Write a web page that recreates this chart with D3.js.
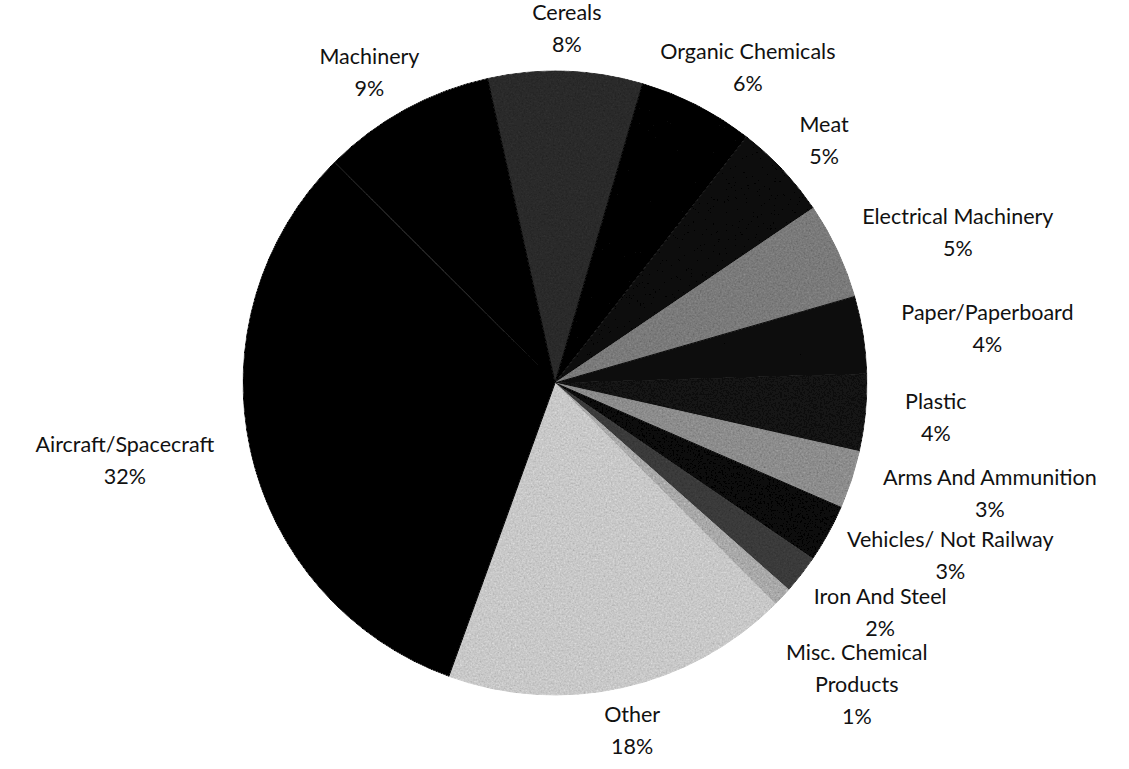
<!DOCTYPE html>
<html>
<head>
<meta charset="utf-8">
<script src="https://cdn.jsdelivr.net/npm/d3@7"></script>
<style>
  body { margin: 0; background: #fff; }
  svg { display: block; }
</style>
</head>
<body>
<div class="chart"></div>
<script>
// export shares, clockwise starting with Cereals
const categories = ['Cereals', 'Organic Chemicals', 'Meat', 'Electrical Machinery', 'Paper/Paperboard',
  'Plastic', 'Arms And Ammunition', 'Vehicles/ Not Railway', 'Iron And Steel',
  'Misc. Chemical\nProducts', 'Other', 'Aircraft/Spacecraft', 'Machinery']
const shares = [8, 6, 5, 5, 4, 4, 3, 3, 2, 1, 18, 32, 9]

const shades = ['#2a2a2a', '#050505', '#080808', '#7a7a7a', '#0a0a0a', '#121212', '#8c8c8c',
  '#070707', '#3a3a3a', '#a9a9a9', '#c8c8c8', '#030303', '#040404']

let w = 1129,
    h = 769

const cx = 555, cy = 383, r = 312
const lineH = 32
const labelRy = r + 43
const startDeg = -12.5

const svg = d3.select('.chart')
              .append('svg')
              .attr('width', w)
              .attr('height', h)

// scanned-print grain, black stays black
const grain = svg.append('defs').append('filter')
                 .attr('id', 'grain')
                 .attr('x', '-5%').attr('y', '-5%')
                 .attr('width', '110%').attr('height', '110%')
grain.append('feTurbulence')
     .attr('type', 'fractalNoise')
     .attr('baseFrequency', 0.55)
     .attr('numOctaves', 2)
     .attr('seed', 4)
     .attr('result', 'noise')
grain.append('feColorMatrix')
     .attr('in', 'noise')
     .attr('type', 'saturate')
     .attr('values', 0)
     .attr('result', 'grey')
grain.append('feBlend')
     .attr('in', 'grey')
     .attr('in2', 'SourceGraphic')
     .attr('mode', 'overlay')
     .attr('result', 'mix')
grain.append('feComposite')
     .attr('in', 'mix')
     .attr('in2', 'SourceGraphic')
     .attr('operator', 'in')

const a0 = startDeg * Math.PI / 180
const pie = d3.pie()
              .sort(null)
              .value(d => d)
              .startAngle(a0)
              .endAngle(a0 + 2 * Math.PI)

const arc = d3.arc().innerRadius(0).outerRadius(r)
const slices = pie(shares)

const pieG = svg.append('g')
                .attr('transform', `translate(${cx},${cy})`)
                .attr('filter', 'url(#grain)')

pieG.selectAll('path')
    .data(slices)
    .enter()
    .append('path')
    .attr('d', arc)
    .attr('fill', (d, i) => shades[i])
    .attr('stroke', (d, i) => shades[i])
    .attr('stroke-width', 1)
    .attr('stroke-linejoin', 'round')

// labels
const labelG = svg.append('g')
                  .style('font-family', 'Lato, "Noto Sans", sans-serif')
                  .style('font-size', '21.5px')
                  .attr('fill', '#111')

const labels = slices.map((d, i) => {
  const lines = categories[i].split('\n').concat([shares[i] + '%'])
  const probe = labelG.append('text')
  let bw = 0
  lines.forEach(t => {
    probe.text(t)
    bw = Math.max(bw, probe.node().getComputedTextLength())
  })
  probe.remove()
  const bh = lines.length * lineH
  const mid = (d.startAngle + d.endAngle) / 2
  const sx = Math.sin(mid), sy = -Math.cos(mid)
  const gap = 10 + 30 * Math.abs(sx)
  return {
    lines: lines,
    w: bw,
    h: bh,
    right: sx > 0,
    x: cx + (r + gap) * sx + bw / 2 * sx,
    y: cy + labelRy * sy
  }
})

// push crowded labels on the right side downwards
let prev = null
labels.forEach(l => {
  if (!l.right) return
  if (prev) {
    const xOverlap = Math.abs(l.x - prev.x) < (l.w + prev.w) / 2
    const need = (l.h + prev.h) / 2 * 0.9
    if (xOverlap && l.y - prev.y < need) l.y = prev.y + need
  }
  prev = l
})

labels.forEach(l => {
  const t = labelG.append('text')
                  .attr('text-anchor', 'middle')
  l.lines.forEach((s, k) => {
    t.append('tspan')
     .attr('x', l.x)
     .attr('y', l.y - (l.lines.length - 1) / 2 * lineH + k * lineH)
     .attr('dominant-baseline', 'central')
     .text(s)
  })
})
</script>
</body>
</html>
